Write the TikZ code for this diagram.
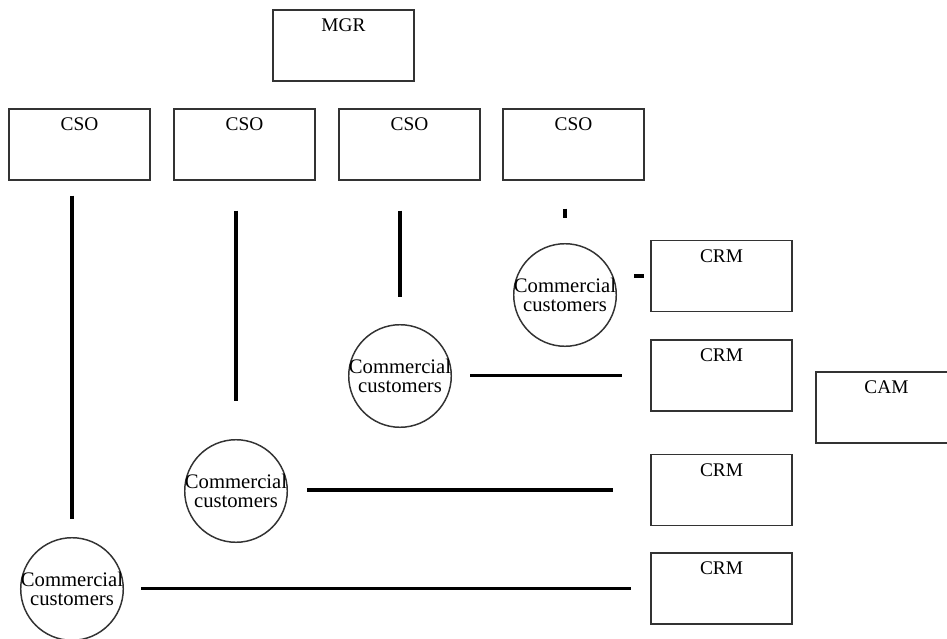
\documentclass[tikz,border=0pt]{standalone}
\usepackage{fontspec}
\setmainfont{Liberation Serif}
\usetikzlibrary{positioning, calc}

\begin{document}
\begin{tikzpicture}[
    x=0.75pt, y=-0.75pt, % one unit = one pixel of the sketch
    font=\fontsize{14.5}{14.5}\selectfont,
    box/.style={
        rectangle,
        draw=black!80,
        line width=1.1pt,
        minimum width=105.75pt,
        minimum height=53.25pt,
        inner xsep=0pt,
        inner ysep=5pt,
        text height=11pt,
        text depth=32pt,
        anchor=center
    },
    cust/.style={ % customer group
        circle,
        draw=black!80,
        line width=1.1pt,
        fill=white,
        minimum size=73pt,
        inner sep=-1.5pt,
        align=center,
        font=\fontsize{15.5}{14.5}\selectfont
    },
    link/.style={
        line width=2.6pt,
        black
    }
]
    \useasboundingbox (0,0) rectangle (947,639);

    % Manager
    \node[box] (mgr) at (343.5,45.5) {MGR};

    % Sales officers
    \node[box] (cso1) at (79.5,144.5) {CSO};
    \node[box] (cso2) at (244.5,144.5) {CSO};
    \node[box] (cso3) at (409.5,144.5) {CSO};
    \node[box] (cso4) at (573.5,144.5) {CSO};

    % Customer groups
    \node[cust] (cc1) at (565,295) {Commercial\\customers};
    \node[cust] (cc2) at (400,376) {Commercial\\customers};
    \node[cust] (cc3) at (236,491) {Commercial\\customers};
    \node[cust] (cc4) at (72,589) {Commercial\\customers};

    % Relationship managers
    \node[box] (crm1) at (721.5,276) {CRM};
    \node[box] (crm2) at (721.5,375.5) {CRM};
    \node[box] (crm3) at (721.5,490) {CRM};
    \node[box] (crm4) at (721.5,588.5) {CRM};

    \node[box] (cam) at (886.5,407.5) {CAM};

    % Officer to customers
    \draw[link, shorten <=11.25pt, shorten >=13.5pt] (cc4.north |- cso1.south) -- (cc4.north);
    \draw[link, shorten <=22.5pt, shorten >=28.5pt] (cc3.north |- cso2.south) -- (cc3.north);
    \draw[link, shorten <=22.5pt, shorten >=20.25pt] (cc2.north |- cso3.south) -- (cc2.north);
    \draw[link, shorten <=21pt, shorten >=18.75pt] (cc1.north |- cso4.south) -- (cc1.north);

    % Customers to managers
    \draw[link, shorten <=12.75pt, shorten >=4.5pt] (cc1.east |- crm1.west) -- (crm1.west);
    \draw[link, shorten <=13.5pt, shorten >=21pt] (cc2.east |- crm2.west) -- (crm2.west);
    \draw[link, shorten <=14.25pt, shorten >=27.75pt] (cc3.east |- crm3.west) -- (crm3.west);
    \draw[link, shorten <=12.75pt, shorten >=14.25pt] (cc4.east |- crm4.west) -- (crm4.west);
\end{tikzpicture}
\end{document}
